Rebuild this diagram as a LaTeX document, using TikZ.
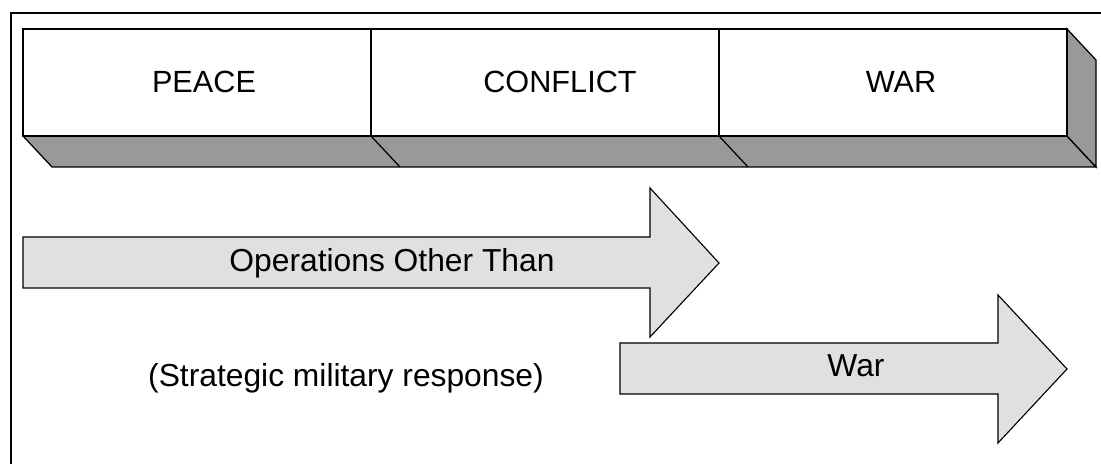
\documentclass[tikz,border=0pt]{standalone}
\usepackage{fontspec}
\setmainfont{Liberation Sans}
\usetikzlibrary{positioning,calc}

\begin{document}
\begin{tikzpicture}[
    x=0.025cm, y=-0.025cm,
    frontface/.style={draw=black, line width=0.9pt, fill=white},
    sideface/.style={draw=black, line width=0.9pt, fill=black!40},
    bigarrow/.style={draw=black, line width=0.8pt, fill=black!12},
    phaselab/.style={anchor=base, font=\fontsize{21.8}{26}\selectfont, inner sep=0pt},
    oplab/.style={anchor=base, font=\fontsize{22.6}{27}\selectfont, inner sep=0pt}
  ]
  \useasboundingbox (0,0) rectangle (1101,464);

  % ============ Frame ============
  \draw[line width=1.8pt] (1101,13) -- (11,13) -- (11,464);

  % ============ 3D band: peace / conflict / war ============
  \draw[sideface] (23,136) -- (1067,136) -- (1096,167) -- (52,167) -- cycle;
  \draw[sideface] (1067,29) -- (1096,60) -- (1096,167) -- (1067,136) -- cycle;
  \draw[sideface] (371,136) -- (400,167);
  \draw[sideface] (719,136) -- (748,167);
  \draw[frontface] (23,29) rectangle (371,136);
  \draw[frontface] (371,29) rectangle (719,136);
  \draw[frontface] (719,29) rectangle (1067,136);

  \node[phaselab] (peace)    at (204,93) {PEACE};
  \node[phaselab] (conflict) at (560,93) {CONFLICT};
  \node[phaselab] (war)      at (901,93) {WAR};

  % ============ Arrows ============
  \draw[bigarrow] (23,237) -- (650,237) -- (650,188) -- (719,263)
    -- (650,337) -- (650,288) -- (23,288) -- cycle;
  \draw[bigarrow] (620,343) -- (998,343) -- (998,295) -- (1067,369)
    -- (998,443) -- (998,394) -- (620,394) -- cycle;

  \node[oplab] (ootw)      at (392,272) {Operations Other Than};
  \node[oplab] (strategic) at (346,387) {(Strategic military response)};
  \node[oplab] (warop)     at (856,377) {War};

\end{tikzpicture}
\end{document}
